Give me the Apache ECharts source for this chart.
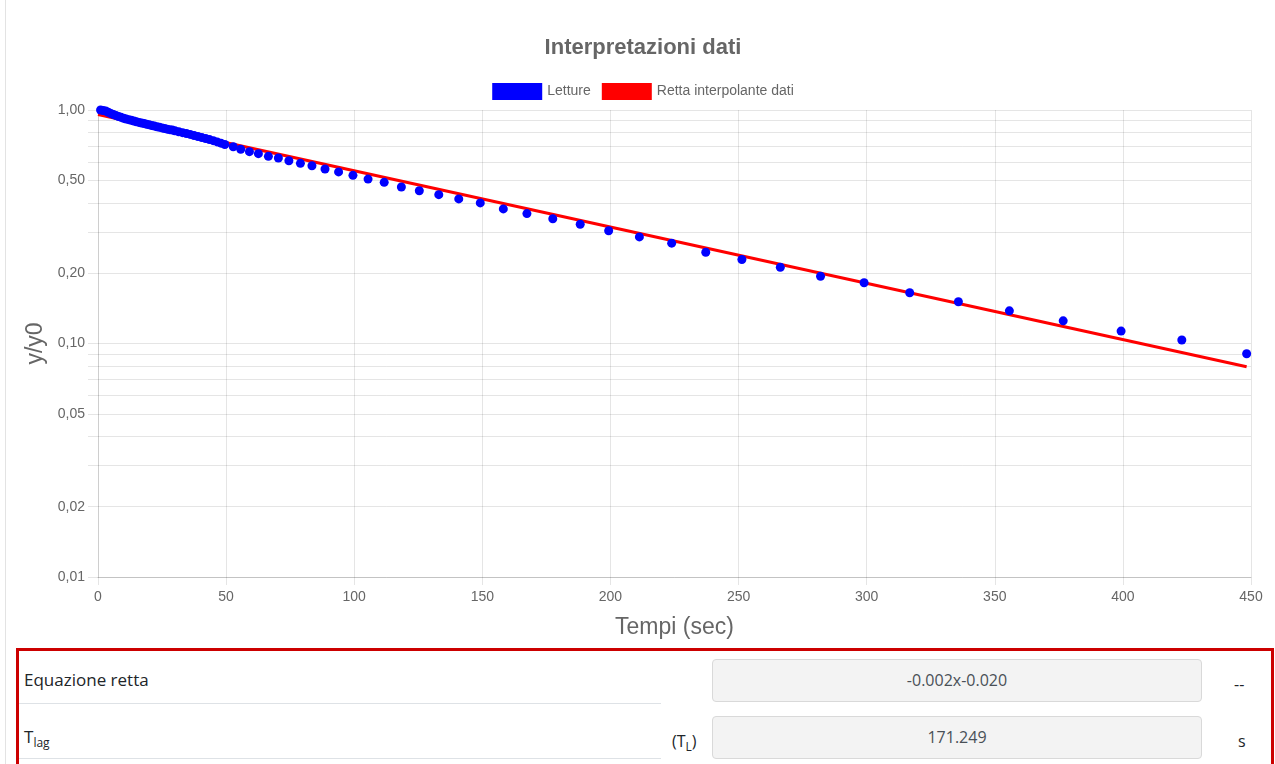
<!DOCTYPE html>
<html>
<head>
<meta charset="utf-8">
<script src="https://cdn.jsdelivr.net/npm/echarts@6/dist/echarts.min.js"></script>
<style>
  html, body { margin: 0; padding: 0; background: #fff; }
  body { width: 1275px; height: 764px; overflow: hidden; position: relative; font-family: "Open Sans", "Noto Sans", sans-serif; }
  #vline { position: absolute; left: 5px; top: 0; width: 1px; height: 764px; background: #e3e3e3; }
  #chart { position: absolute; left: 11px; top: 0; width: 1264px; height: 645px; }
  #box { position: absolute; left: 16px; top: 648px; width: 1258px; height: 140px; border: 3px solid #cc0000; box-sizing: border-box; }
  .lbl { position: absolute; font-size: 17px; color: #212529; white-space: nowrap; }
  .hr { position: absolute; height: 1px; background: #dee2e6; }
  .inp { position: absolute; left: 712px; width: 490px; height: 43px; box-sizing: border-box; background: #f3f3f3; border: 1px solid #d9d9d9; border-radius: 4px; text-align: center; line-height: 41px; font-size: 16px; color: #495057; }
  sub { font-size: 12px; vertical-align: -4px; line-height: 0; }
</style>
</head>
<body>
<div id="vline"></div>
<div id="chart"></div>
<div id="box"></div>
<div class="lbl" style="left:24px; top:668px;">Equazione retta</div>
<div class="hr" style="left:19px; top:703px; width:642px;"></div>
<div class="lbl" style="left:24px; top:725px;">T<sub>lag</sub></div>
<div class="hr" style="left:19px; top:758px; width:642px;"></div>
<div class="lbl" style="left:672px; top:730px; font-size:16px;">(T<sub>L</sub>)</div>
<div class="inp" style="top:659px;">-0.002x-0.020</div>
<div class="inp" style="top:716px;">171.249</div>
<div class="lbl" style="left:1234px; top:673px; font-size:16px;">--</div>
<div class="lbl" style="left:1238px; top:730px; font-size:16px;">s</div>
<script>
// ---- data ----
const times = [1, 2, 3, 4, 5, 6, 7, 8, 9, 10, 11, 12, 13, 14, 15, 16, 17, 18, 19, 20, 21, 22, 23, 24, 25, 26, 27, 28, 29, 30,
  31.5, 33, 34.5, 36, 37.5, 39, 40.5, 42, 43.5, 45, 46.5, 48, 49.5,
  52.8, 55.7, 59.1, 62.6, 66.5, 70.4, 74.5, 79.0, 83.5, 88.6, 93.9, 99.5, 105.4, 111.7, 118.4, 125.4, 133.0, 140.8, 149.2, 158.2, 167.4, 177.5, 188.2, 199.3,
  211.3, 223.9, 237.2, 251.3, 266.3, 282.0, 299.0, 316.8, 335.8, 355.7, 376.7, 399.3, 423.0, 448.3];
const ratios = [1.000, 0.995, 0.990, 0.978, 0.966, 0.957, 0.947, 0.938, 0.930, 0.922, 0.915, 0.909, 0.903, 0.897, 0.890, 0.885, 0.880, 0.875, 0.868, 0.864, 0.858, 0.853, 0.848, 0.843, 0.838, 0.833, 0.828, 0.824, 0.820, 0.815,
  0.807, 0.800, 0.793, 0.786, 0.778, 0.770, 0.762, 0.755, 0.747, 0.739, 0.730, 0.721, 0.712,
  0.696, 0.679, 0.663, 0.650, 0.633, 0.623, 0.606, 0.591, 0.577, 0.559, 0.543, 0.525, 0.506, 0.490, 0.468, 0.451, 0.434, 0.416, 0.400, 0.377, 0.360, 0.342, 0.324, 0.304,
  0.286, 0.269, 0.246, 0.229, 0.212, 0.194, 0.182, 0.165, 0.151, 0.138, 0.125, 0.113, 0.1035, 0.0904];
const fitTimes = [0, 448.3];
const fitValues = [0.957, 0.0795];
const yLabelValues = [0.01, 0.02, 0.05, 0.1, 0.2, 0.5, 1];
const yGridValues = [0.01, 0.02, 0.03, 0.04, 0.05, 0.06, 0.07, 0.08, 0.09, 0.1, 0.2, 0.3, 0.4, 0.5, 0.6, 0.7, 0.8, 0.9, 1];
const seriesNames = ['Letture', 'Retta interpolante dati'];
const titleText = 'Interpretazioni dati';
const xName = 'Tempi (sec)';
const yName = 'y/y0';

const gridColor = 'rgba(0,0,0,0.1)';
const chart = echarts.init(document.getElementById('chart'), null, { renderer: 'canvas' });
chart.setOption({
  animation: false,
  textStyle: { fontFamily: 'Liberation Sans, Arial, sans-serif' },
  title: {
    text: titleText, left: 'center', top: 37, padding: 0,
    textStyle: { fontSize: 22, fontWeight: 'bold', color: '#666', fontFamily: 'Liberation Sans, Arial, sans-serif' }
  },
  legend: {
    data: seriesNames, top: 83, left: 'center', padding: 0, itemGap: 11,
    itemWidth: 50, itemHeight: 17, icon: 'rect',
    textStyle: { fontSize: 14, color: '#666' }
  },
  grid: { left: 87, right: 24, top: 110, bottom: 68, containLabel: false },
  xAxis: {
    type: 'value', min: 0, max: 450, interval: 50,
    name: xName, nameLocation: 'middle', nameGap: 39,
    nameTextStyle: { fontSize: 23, color: '#666' },
    axisLine: { show: true, lineStyle: { color: 'rgba(0,0,0,0.15)' } },
    axisTick: { show: true, length: 8, lineStyle: { color: gridColor } },
    axisLabel: { fontSize: 14, color: '#666', margin: 13 },
    splitLine: { show: true, lineStyle: { color: gridColor } }
  },
  yAxis: {
    type: 'log', logBase: 10, min: 0.01, max: 1,
    name: yName, nameLocation: 'middle', nameGap: 50,
    nameTextStyle: { fontSize: 23, color: '#666' },
    axisLine: { show: true, lineStyle: { color: gridColor } },
    axisTick: { show: true, length: 10, customValues: yGridValues, lineStyle: { color: gridColor } },
    axisLabel: { fontSize: 14, color: '#666', margin: 13, customValues: yLabelValues,
      formatter: v => Number(v).toFixed(2).replace('.', ',') },
    splitLine: { show: true, lineStyle: { color: gridColor } }
  },
  series: [
    {
      name: seriesNames[1], type: 'line', showSymbol: false, symbol: 'none',
      data: fitTimes.map((t, i) => [t, fitValues[i]]),
      lineStyle: { color: '#ff0000', width: 3 }, itemStyle: { color: '#ff0000' }, z: 2
    },
    {
      name: seriesNames[0], type: 'scatter', symbolSize: 9,
      data: times.map((t, i) => [t, ratios[i]]),
      itemStyle: { color: '#0000ff', opacity: 1 }, z: 3
    }
  ]
});
</script>
</body>
</html>
